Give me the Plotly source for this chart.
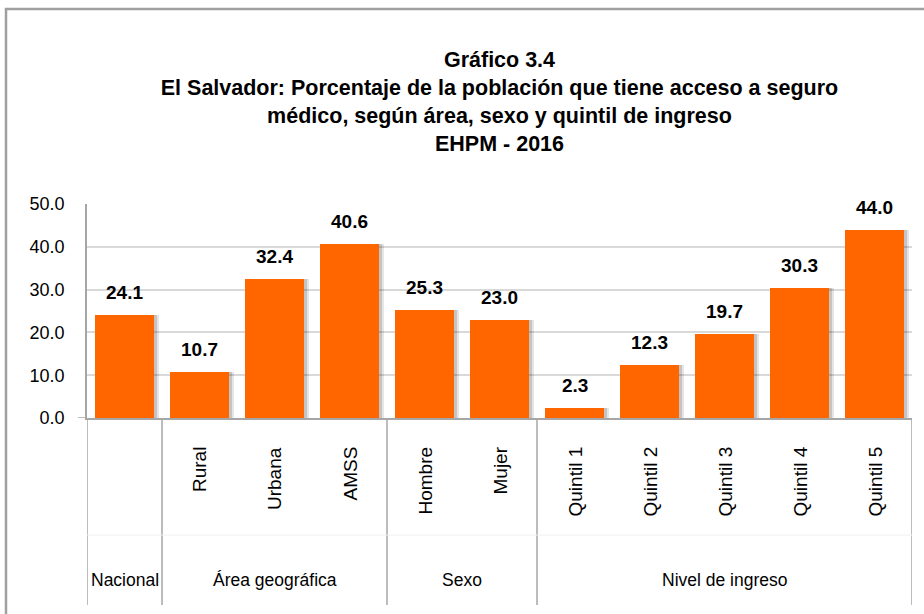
import plotly.graph_objects as go

# ---- data ----
groups = ["Nacional", "Área geográfica", "Área geográfica", "Área geográfica",
          "Sexo", "Sexo", "Nivel de ingreso", "Nivel de ingreso",
          "Nivel de ingreso", "Nivel de ingreso", "Nivel de ingreso"]
categories = ["Nacional", "Rural", "Urbana", "AMSS", "Hombre", "Mujer",
              "Quintil 1", "Quintil 2", "Quintil 3", "Quintil 4", "Quintil 5"]
values = [24.1, 10.7, 32.4, 40.6, 25.3, 23.0, 2.3, 12.3, 19.7, 30.3, 44.0]
y_ticks = [0, 10, 20, 30, 40, 50]

title_lines = ["Gráfico 3.4",
               "El Salvador: Porcentaje de la población que tiene acceso a seguro",
               "médico, según área, sexo y quintil de ingreso",
               "EHPM - 2016"]

FONT = "Liberation Sans, Arial, sans-serif"
W, H = 924, 614
ML, MR, MT, MB = 87, 12, 204, 196
PW, PH = W - ML - MR, H - MT - MB

idx = list(range(len(categories)))
bar_w = 0.79

fig = go.Figure()
# soft shadow
fig.add_trace(go.Bar(x=idx, y=values, width=bar_w, offset=-bar_w / 2 + 0.07,
                     marker=dict(color="rgba(0,0,0,0.10)", line=dict(width=0)),
                     hoverinfo="skip", showlegend=False))
fig.add_trace(go.Bar(x=idx, y=values, width=bar_w, offset=-bar_w / 2 + 0.04,
                     marker=dict(color="rgba(0,0,0,0.14)", line=dict(width=0)),
                     hoverinfo="skip", showlegend=False))
fig.add_trace(go.Bar(x=idx, y=values, width=bar_w, offset=-bar_w / 2,
                     marker=dict(color="#FF6600", line=dict(width=0)),
                     showlegend=False))

annotations = []
# value labels
for i, v in zip(idx, values):
    annotations.append(dict(x=i, y=v, xref="x", yref="y", text=f"<b>{v:.1f}</b>",
                            showarrow=False, yanchor="bottom", yshift=10,
                            font=dict(family=FONT, size=19, color="#000")))
# rotated category labels (skip the single-item group whose label is the group name)
for i, (c, g) in enumerate(zip(categories, groups)):
    if c == g:
        continue
    annotations.append(dict(x=i, y=0, xref="x", yref="paper", text=c,
                            textangle=-90, showarrow=False, yanchor="top",
                            xanchor="center", yshift=-27,
                            font=dict(family=FONT, size=19, color="#000")))
# group labels and dividers
shapes = []
bounds = []
start = 0
for i in range(1, len(groups) + 1):
    if i == len(groups) or groups[i] != groups[start]:
        bounds.append((start, i - 1, groups[start]))
        start = i
div_bottom = -(605 - (H - MB)) / PH
for s, e, g in bounds:
    annotations.append(dict(x=(s + e) / 2, y=0, xref="x", yref="paper", text=g,
                            showarrow=False, yanchor="middle", yshift=-162,
                            font=dict(family=FONT, size=17.5, color="#000")))
    shapes.append(dict(type="line", xref="x", yref="paper", x0=s - 0.5, x1=s - 0.5,
                       y0=0, y1=div_bottom, line=dict(color="#a6a6a6", width=1.5)))
shapes.append(dict(type="line", xref="x", yref="paper", x0=len(groups) - 0.5,
                   x1=len(groups) - 0.5, y0=0, y1=div_bottom,
                   line=dict(color="#a6a6a6", width=1.5)))
# faint row separator
shapes.append(dict(type="line", xref="paper", yref="paper", x0=0, x1=1,
                   y0=-(535 - (H - MB)) / PH, y1=-(535 - (H - MB)) / PH,
                   line=dict(color="#f0f0f0", width=1)))
# short tick at zero
shapes.append(dict(type="line", xref="paper", yref="y", x0=-9 / PW, x1=0, y0=0, y1=0,
                   line=dict(color="#a6a6a6", width=1.5)))
# outer chart border
shapes.append(dict(type="rect", xref="paper", yref="paper",
                   x0=(6 - ML) / PW, x1=(940 - ML) / PW,
                   y0=((H - MB) - 630) / PH, y1=((H - MB) - 9) / PH,
                   line=dict(color="#a0a0a0", width=2.5), fillcolor="rgba(0,0,0,0)",
                   layer="below"))

fig.update_layout(
    width=W, height=H,
    margin=dict(l=ML, r=MR, t=MT, b=MB, autoexpand=False),
    paper_bgcolor="white", plot_bgcolor="white",
    barmode="overlay", bargap=0,
    title=dict(text="<br>".join(f"<b>{t}</b>" for t in title_lines),
               x=0.5, xref="paper", xanchor="center",
               y=1 - 67 / H, yref="container", yanchor="top",
               font=dict(family=FONT, size=21.5, color="#000")),
    annotations=annotations, shapes=shapes,
    font=dict(family=FONT, color="#000"),
)
fig.update_xaxes(range=[-0.5, len(categories) - 0.5], showticklabels=False,
                 showgrid=False, zeroline=False, showline=True, automargin=False,
                 linecolor="#a6a6a6", linewidth=1.5, fixedrange=True)
fig.update_yaxes(range=[0, 50], tickvals=y_ticks, tickformat=".1f", automargin=False,
                 showgrid=True, gridcolor="#d9d9d9", gridwidth=1.5,
                 zeroline=False, showline=True, linecolor="#a6a6a6", linewidth=1.5,
                 ticks="", ticklabelstandoff=17,
                 tickfont=dict(family=FONT, size=18, color="#000"))

fig.write_html("out.html", config={"displayModeBar": False},
               post_script="document.body.style.margin='0';document.body.style.overflow='hidden';")
